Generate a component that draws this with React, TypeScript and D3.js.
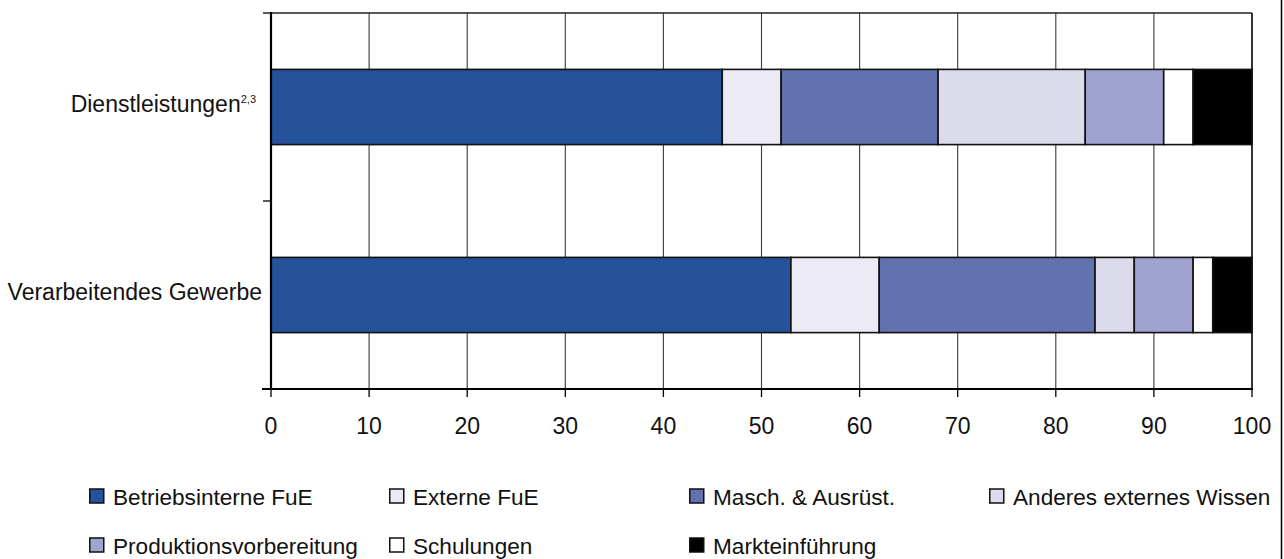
import React from "react";
import * as d3 from "d3";

// Innovationsausgaben nach Art, Anteile in %
const categories = ["Dienstleistungen", "Verarbeitendes Gewerbe"];
const categoryNotes = ["2,3", ""];
const seriesNames = [
  "Betriebsinterne FuE",
  "Externe FuE",
  "Masch. & Ausrüst.",
  "Anderes externes Wissen",
  "Produktionsvorbereitung",
  "Schulungen",
  "Markteinführung",
];
const seriesColors = [
  "#26529b",
  "#ecebf5",
  "#6272ae",
  "#dbdbec",
  "#a0a3cf",
  "#ffffff",
  "#000000",
];
const dienstleistungenValues = [46, 6, 16, 15, 8, 3, 6];
const verarbeitendesValues = [53, 9, 22, 4, 6, 2, 4];
const xTickValues = [0, 10, 20, 30, 40, 50, 60, 70, 80, 90, 100];

const W = 1284;
const H = 559;
const FONT = "'Liberation Sans', Arial, Helvetica, sans-serif";

export default function App() {
  const rows = [dienstleistungenValues, verarbeitendesValues].map((vals, i) => {
    const r: Record<string, any> = { category: categories[i] };
    seriesNames.forEach((s, j) => (r[s] = vals[j]));
    return r;
  });
  const stacked = d3.stack<any>().keys(seriesNames)(rows);

  const x = d3.scaleLinear().domain([0, 100]).range([271, 1252]);
  const y = d3
    .scaleBand<string>()
    .domain(categories)
    .range([13, 389])
    .paddingInner(0.6)
    .paddingOuter(0.3);

  const [top, bottom] = y.range();
  const step = y.step();
  const yTicks = [top, top + step, bottom];
  const color = d3.scaleOrdinal<string, string>().domain(seriesNames).range(seriesColors);

  const legendX = (i: number) => 89 + (i % 4) * 300;
  const legendY = (i: number) => 496 + Math.floor(i / 4) * 49;

  return (
    <svg
      width={W}
      height={H}
      viewBox={`0 0 ${W} ${H}`}
      style={{ position: "fixed", left: 0, top: 0, background: "#fff" }}
      fontFamily={FONT}
    >
      <rect x={0} y={0} width={W} height={H} fill="#fff" />

      {/* vertical gridlines */}
      {xTickValues.map((t) => (
        <line
          key={"g" + t}
          x1={x(t)}
          x2={x(t)}
          y1={top}
          y2={bottom}
          stroke={t === 100 ? "#000" : "#3a3a3a"}
          strokeWidth={t === 100 ? 1.6 : 1.1}
        />
      ))}
      {/* top frame line */}
      <line x1={x(0)} x2={x(100)} y1={top} y2={top} stroke="#222" strokeWidth={1.5} />

      {/* stacked bars */}
      {stacked.map((layer, si) =>
        layer.map((d, ci) => (
          <rect
            key={`b${si}-${ci}`}
            x={x(d[0])}
            y={y(categories[ci])!}
            width={x(d[1]) - x(d[0])}
            height={y.bandwidth()}
            fill={color(seriesNames[si])}
            stroke="#111"
            strokeWidth={1.6}
          />
        ))
      )}

      {/* axes */}
      <line x1={x(0)} x2={x(0)} y1={top - 1} y2={bottom + 1} stroke="#000" strokeWidth={2.2} />
      <line x1={x(0) - 9} x2={x(100) + 1} y1={bottom} y2={bottom} stroke="#000" strokeWidth={2.2} />
      {yTicks.map((t, i) => (
        <line key={"yt" + i} x1={x(0) - 8} x2={x(0)} y1={t} y2={t} stroke="#000" strokeWidth={1.3} />
      ))}
      {xTickValues.map((t) => (
        <g key={"xt" + t}>
          <line x1={x(t)} x2={x(t)} y1={bottom} y2={bottom + 8} stroke="#000" strokeWidth={1.3} />
          <text x={x(t)} y={434} textAnchor="middle" fontSize={23} fill="#111">
            {t}
          </text>
        </g>
      ))}

      {/* category labels */}
      {categories.map((c, i) => {
        const cy = y(c)! + y.bandwidth() / 2;
        return (
          <text key={"c" + i} x={categoryNotes[i] ? 256 : 262} y={cy + 5} textAnchor="end" fontSize={23} fill="#111">
            {c}
            {categoryNotes[i] && (
              <tspan fontSize={11} dy={-9}>
                {categoryNotes[i]}
              </tspan>
            )}
          </text>
        );
      })}

      {/* legend */}
      {seriesNames.map((s, i) => (
        <g key={"l" + i} transform={`translate(${legendX(i)},${legendY(i)})`}>
          <rect x={0.75} y={-7} width={14} height={14} fill={color(s)} stroke="#111" strokeWidth={1.5} />
          <text x={24} y={8.5} fontSize={22.6} fill="#111">
            {s}
          </text>
        </g>
      ))}

      {/* outer frame edge */}
      <line x1={1281.5} x2={1281.5} y1={0} y2={H} stroke="#000" strokeWidth={1.5} />
    </svg>
  );
}
